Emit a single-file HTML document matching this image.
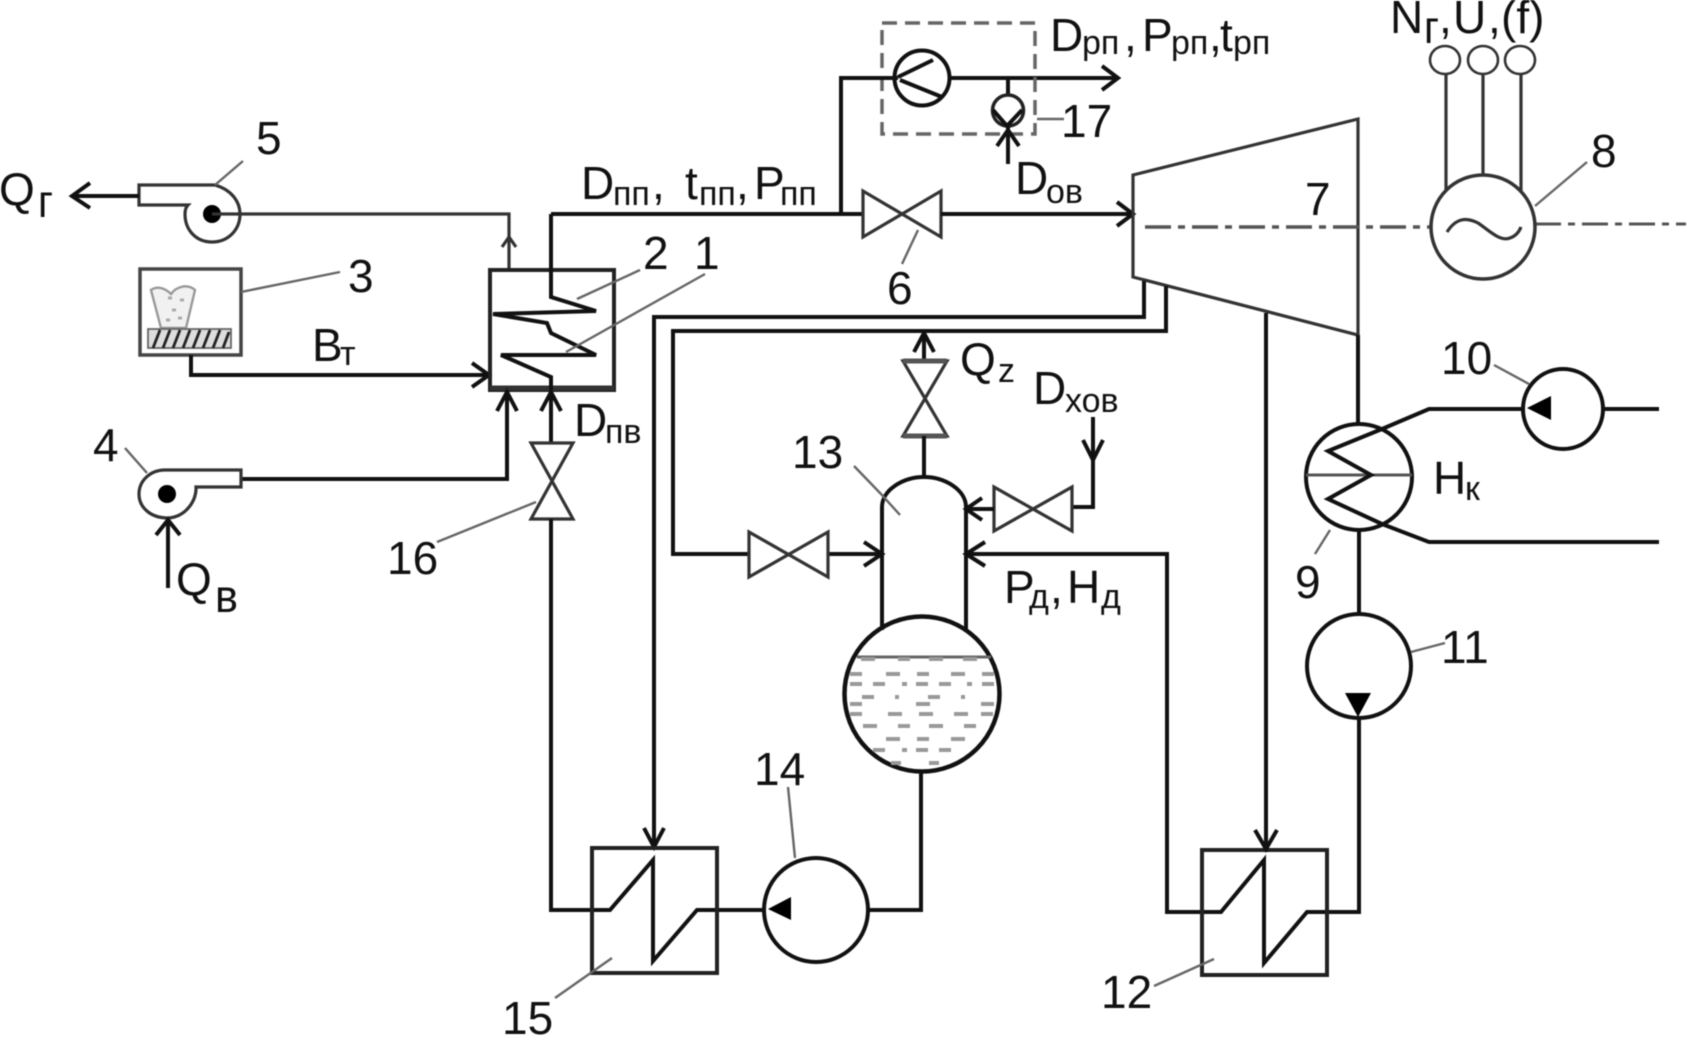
<!DOCTYPE html>
<html>
<head>
<meta charset="utf-8">
<style>
html,body{margin:0;padding:0;background:#fff;width:1708px;height:1060px;overflow:hidden}
svg{display:block;filter:blur(0.6px)}
text{font-family:"Liberation Sans",sans-serif;font-size:46px;fill:#111}
.s{font-size:34px}
.m{fill:none;stroke:#222;stroke-width:4}
.t{fill:none;stroke:#333;stroke-width:3.2}
.k{fill:none;stroke:#111;stroke-width:4}
.l{fill:none;stroke:#666;stroke-width:2.4}
</style>
</head>
<body>
<svg width="1708" height="1060" viewBox="0 0 1708 1060" xmlns="http://www.w3.org/2000/svg">
<rect width="1708" height="1060" fill="#fff"/>

<!-- fan 5 -->
<path class="t" d="M188 205H139V185H215C232 190 240 202 240 214C240 230 228 242 212 242C196 242 185 230 185 214C185 210 186 207 188 205Z"/>
<circle cx="212" cy="214" r="9" fill="#000"/>
<path class="t" d="M212 214H509V269"/>
<path class="t" d="M502 247L509 237L516 247" stroke-width="2.6"/>
<path class="k" d="M139 196H73" stroke-width="5"/>
<path class="k" d="M90 183L72 196L90 208"/>

<!-- furnace 3 -->
<rect x="140" y="269" width="101" height="86" fill="none" stroke="#444" stroke-width="3.5"/>
<path d="M151 290C158 285 166 289 171 294C176 287 187 283 195 290L186 328H161Z" fill="#f1f1f1" stroke="#999" stroke-width="2.4"/>
<path d="M168 298h4M180 300h4M172 310h4M166 320h4M178 318h4" stroke="#aaa" stroke-width="3" fill="none"/>
<rect x="148" y="329" width="83" height="19" fill="#ddd" stroke="#666" stroke-width="1.8"/>
<path d="M153 348L160 330M163 348L170 330M173 348L180 330M183 348L190 330M193 348L200 330M203 348L210 330M213 348L220 330M223 348L229 332" fill="none" stroke="#222" stroke-width="2.8"/>
<path class="l" d="M241 292L340 272"/>
<path class="k" d="M191 355V375H487M472 363L489 375L472 387"/>

<!-- boiler -->
<rect x="490" y="270" width="124" height="120" fill="none" stroke="#222" stroke-width="4"/>
<path d="M490 388H614" stroke="#333" stroke-width="5"/>
<path class="k" d="M551 214V297L596 311L493 314L547 323L551 333L596 355L501 355L551 377V390" stroke-width="4"/>
<path class="l" d="M577 299L640 270M566 352L705 274"/>
<path class="k" d="M551 214H863"/>
<path class="k" d="M551 392V443M541 411L551 392L561 411"/>
<path class="k" d="M241 479H507V394M497 411L507 392L517 411" stroke="#333"/>

<!-- fan 4 -->
<path class="t" d="M241 470V487H196C197 500 186 517 168 518C150 518 139 507 139 494C139 481 150 470 165 470Z"/>
<circle cx="167" cy="494" r="9" fill="#000"/>
<path class="l" d="M125 448L147 473"/>
<path class="k" d="M168 588V522M156 535L168 520L180 535"/>

<!-- valve 16 -->
<path class="t" d="M531 443H573L531 519H573Z"/>
<path class="k" d="M551 519V910H610L653 860V961L697 910H765"/>
<path class="l" d="M437 542L536 502"/>

<!-- main steam / blower -->
<path class="k" d="M841 214V78H1116M1102 66L1118 78L1102 90"/>
<rect x="882" y="23" width="153" height="111" fill="none" stroke="#666" stroke-width="3.5" stroke-dasharray="15 8"/>
<circle cx="922" cy="78" r="27.5" fill="#fff" stroke="#111" stroke-width="4"/>
<path class="k" d="M898 77L933 60M900 80L942 97M870 78H898" stroke-width="3.5"/>
<path class="k" d="M1008 78V96"/>
<circle cx="1008" cy="110.500" r="15.500" fill="none" stroke="#222" stroke-width="3.500"/>
<path class="k" d="M993 110L1007 126L1022 110" stroke-width="3"/>
<path class="k" d="M1008 164V125M997 146L1008 130L1019 146" stroke-width="3.500"/>
<path class="l" d="M1037 119H1064" stroke-width="3"/>

<!-- valve 6 -->
<path class="t" d="M863 191V237L941 191V237Z"/>
<path class="k" d="M941 214H1131M1117 202L1133 214L1117 226"/>
<path class="l" d="M918 230L902 264"/>

<!-- turbine -->
<path class="t" d="M1133 175L1358 119V335L1133 277Z" stroke="#444"/>
<path d="M1145 227H1431" fill="none" stroke="#555" stroke-width="3.500" stroke-dasharray="26 7 7 7"/>
<path d="M1535 224H1686" fill="none" stroke="#555" stroke-width="3" stroke-dasharray="26 7 7 7"/>

<!-- generator -->
<circle cx="1483" cy="227" r="52" fill="none" stroke="#333" stroke-width="3.500"/>
<path class="t" d="M1446 74V191M1483 74V175M1521 74V191"/>
<ellipse cx="1445" cy="60" rx="15" ry="14" fill="none" stroke="#333" stroke-width="2.600"/>
<ellipse cx="1483" cy="60" rx="15" ry="14" fill="none" stroke="#333" stroke-width="2.600"/>
<ellipse cx="1520" cy="60" rx="15" ry="14" fill="none" stroke="#333" stroke-width="2.600"/>
<path class="t" d="M1447 232C1456 218 1466 217 1478 223C1490 231 1500 242 1510 238C1516 236 1519 232 1521 227"/>
<path class="l" d="M1535 206L1587 162"/>

<!-- extraction lines -->
<path class="k" d="M1144 281V317H654V845" stroke="#222"/>
<path class="k" d="M644 828L654 847L664 828"/>
<path class="k" d="M1166 286V331H673V554H749" stroke="#222"/>
<path class="k" d="M828 554H880M864 542L882 554L864 566"/>
<path class="t" d="M749 532V577L828 532V577Z"/>

<!-- Qz valve -->
<path class="k" d="M924 335V360M914 352L924 333L934 352"/>
<path class="t" d="M903 361H947L903 436H947Z"/>
<path d="M903 361H947M903 436H947" stroke="#555" stroke-width="5"/>
<path class="k" d="M924 436V477"/>

<!-- deaerator -->
<path class="k" d="M882 630V507C882 490 903 477 924 477C945 477 966 490 966 507V630"/>
<circle cx="922" cy="694" r="77.500" fill="none" stroke="#111" stroke-width="4.500"/>
<path d="M857 657H991" stroke="#666" stroke-width="3"/>
<path fill="none" stroke="#999" stroke-width="4" d="M861 659h14M898 659h12M929 659h14M963 659h14M850 674h12M886 674h14M917 674h12M951 674h14M982 674h12M850 684h12M873 684h12M902 684h5M916 684h12M939 684h12M967 684h5M982 684h12M862 697h12M895 697h4M928 697h12M961 697h4M850 704h12M916 704h14M981 704h13M850 714h12M888 714h14M919 714h14M954 714h14M981 714h12M863 726h14M898 726h12M929 726h14M964 726h12M886 739h14M917 739h12M951 739h14M873 750h12M902 750h5M916 750h12M939 750h12M891 763h10M929 763h10"/>
<path class="k" d="M921 772V910H868"/>
<path class="l" d="M854 466L881 494L900 515"/>

<!-- chem water -->
<path class="k" d="M1093 417V507H1072M1083 440L1093 460L1103 440" stroke="#222"/>
<path class="t" d="M994 487V531L1072 487V531Z"/>
<path class="k" d="M994 509H968M982 498L966 509L982 520"/>
<path class="k" d="M968 554H1167V912H1221L1264 860V963L1307 912H1359V718"/>
<path class="k" d="M985 542L966 554L985 566"/>

<!-- pump 14 -->
<circle cx="816" cy="910" r="52" fill="none" stroke="#111" stroke-width="4"/>
<path d="M768 909L791 897V920Z" fill="#000"/>
<path class="l" d="M788 787L795 858"/>

<!-- box 15 -->
<rect x="592" y="848" width="125" height="125" fill="none" stroke="#222" stroke-width="4"/>
<path class="l" d="M555 998L612 958"/>

<!-- box 12 -->
<rect x="1202" y="850" width="125" height="125" fill="none" stroke="#222" stroke-width="4"/>
<path class="l" d="M1154 986L1214 959"/>
<path class="k" d="M1266 313V847M1255 830L1266 849L1277 830"/>

<!-- pump 11 -->
<circle cx="1359" cy="666" r="52" fill="none" stroke="#111" stroke-width="4"/>
<path d="M1345 693H1371L1358 717Z" fill="#000"/>
<path class="k" d="M1359 530V614"/>
<path class="l" d="M1411 652L1445 643"/>

<!-- condenser -->
<circle cx="1359" cy="477" r="53" fill="none" stroke="#111" stroke-width="4"/>
<path d="M1358 335V424" class="k" stroke="#333"/>
<path d="M1306 475H1412" stroke="#555" stroke-width="3"/>
<path class="k" d="M1523 409H1429L1382 429L1328 451L1371 475L1328 499L1382 524L1429 542H1659"/>
<path class="l" d="M1315 554L1330 530"/>

<!-- pump 10 -->
<circle cx="1563" cy="409" r="40" fill="none" stroke="#111" stroke-width="4"/>
<path d="M1527 408L1551 396V420Z" fill="#000"/>
<path class="k" d="M1603 409H1659"/>
<path class="l" d="M1494 365L1529 384"/>

<!-- leaders 4/5 -->
<path class="l" d="M215 185L243 161"/>

<!-- number labels -->
<text x="256" y="154">5</text>
<text x="643" y="269">2</text>
<text x="694" y="269">1</text>
<text x="348" y="292">3</text>
<text x="93" y="461">4</text>
<text x="387" y="574">16</text>
<text x="887" y="304">6</text>
<text x="1305" y="215">7</text>
<text x="1591" y="167">8</text>
<text x="1295" y="598">9</text>
<text x="1441" y="374">10</text>
<text x="1441" y="663">11</text>
<text x="1101" y="1008">12</text>
<text x="792" y="468">13</text>
<text x="754" y="785">14</text>
<text x="502" y="1034">15</text>
<text x="1061" y="137">17</text>

<!-- formula labels -->
<text x="-1" y="205">Q</text><text x="38" y="217" textLength="15" lengthAdjust="spacingAndGlyphs">г</text>
<text x="312" y="361">В</text><text class="s" x="340" y="365">т</text>
<text x="581" y="199">D</text><text class="s" x="613" y="205">пп</text><text x="652" y="199">,</text>
<text x="685" y="199">t</text><text class="s" x="699" y="205">пп</text><text x="736" y="199">,</text>
<text x="754" y="199">P</text><text class="s" x="780" y="205">пп</text>
<text x="574" y="436">D</text><text class="s" x="605" y="443">пв</text>
<text x="176" y="595">Q</text><text x="215" y="612" textLength="23" lengthAdjust="spacingAndGlyphs">в</text>
<text x="1050" y="51">D</text><text class="s" x="1082" y="54">рп</text><text x="1124" y="51">,</text>
<text x="1142" y="51">P</text><text class="s" x="1171" y="54">рп</text><text x="1209" y="51">,</text>
<text x="1220" y="51">t</text><text class="s" x="1233" y="54">рп</text>
<text x="1390" y="33">N</text><text x="1424" y="43" textLength="15" lengthAdjust="spacingAndGlyphs">г</text><text x="1439" y="33">,</text>
<text x="1453" y="33">U</text><text x="1488" y="33">,</text>
<text x="1501" y="33">(f)</text>
<text x="1015" y="194">D</text><text class="s" x="1046" y="203">ов</text>
<text x="960" y="375">Q</text><text class="s" x="998" y="382">z</text>
<text x="1033" y="404">D</text><text class="s" x="1065" y="412">хов</text>
<text x="1433" y="494">Н</text><text class="s" x="1465" y="500">к</text>
<text x="1004" y="603">Р</text><text class="s" x="1029" y="608">д</text><text x="1050" y="603">,</text>
<text x="1067" y="603">Н</text><text class="s" x="1101" y="608">д</text>
</svg>
</body>
</html>
